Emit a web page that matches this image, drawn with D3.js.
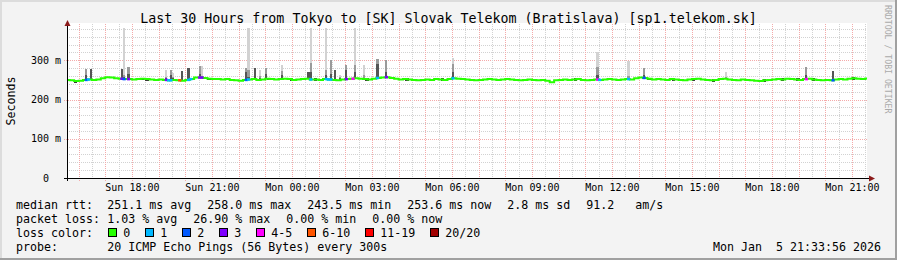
<!DOCTYPE html>
<html>
<head>
<meta charset="utf-8">
<script src="https://cdn.jsdelivr.net/npm/d3@7"></script>
<style>
  html, body { margin: 0; padding: 0; background: #f3f3f3; }
  svg text { font-family: "DejaVu Sans Mono", monospace; white-space: pre; }
</style>
</head>
<body>
<div id="chart"></div>
<script>

// --- DATA ---

const titleText = "Last 30 Hours from Tokyo to [SK] Slovak Telekom (Bratislava) [sp1.telekom.sk]";
const endStamp = "Mon Jan  5 21:33:56 2026";

// median rtt (ms), one value every 10 minutes starting Sun 15:30
const medianStart = "Sun 15:30";
const medianRtt = [
    250, 249, 247, 248, 250, 251, 250, 251,
    254, 257, 256, 254,
    253, 252, 252, 251, 252, 253, 252,
    251, 250, 251, 250, 249, 250,
    249, 248, 250, 252,
    256, 256, 255, 253, 252,
    252, 251, 252, 250, 249, 248, 250,
    251, 252, 250, 251, 253, 252, 251,
    252, 253, 252, 250, 251, 252, 253, 251,
    251, 250, 252, 251, 250, 249, 251,
    252, 253, 254, 253, 252, 251, 253, 255,
    256, 257, 255, 253, 251, 252,
    251, 250, 249, 250, 251, 250, 252, 251, 250,
    252, 254, 253, 252, 251, 250, 249, 250,
    251, 252, 251, 250, 251, 252, 251, 250,
    249, 250, 251, 250, 249, 250, 248, 244, 249,
    250, 251, 250, 251, 252, 250, 249, 250,
    251, 250, 251, 252, 251, 250, 251,
    252, 251, 254, 256, 255, 253, 251,
    252, 251, 250, 252, 251, 250, 249,
    251, 252, 253, 251, 250, 249, 250,
    252, 253, 251, 250, 249, 251, 250,
    249, 248, 247, 249, 250, 251, 252,
    251, 253, 252, 251, 250, 252, 253,
    251, 250, 249, 250, 249, 251, 252,
    251, 253, 254, 253, 252, 253.6
];

// samples with lost pings (count out of 20)
const lossTime = ["Sun 16:15", "Sun 16:20", "Sun 17:35", "Sun 17:40", "Sun 17:50", "Sun 19:15", "Sun 19:20",
    "Sun 19:25", "Sun 19:45", "Sun 20:05", "Sun 20:10", "Sun 20:30", "Sun 20:35", "Sun 22:15", "Sun 22:20",
    "Mon 00:40", "Mon 01:15", "Mon 01:20", "Mon 01:25", "Mon 02:00", "Mon 02:15", "Mon 03:10", "Mon 03:30",
    "Mon 06:00", "Mon 11:25", "Mon 11:30", "Mon 12:35", "Mon 13:10", "Mon 19:15", "Mon 20:15"];
const lossCount = [2, 1, 3, 2, 3, 3, 1,
    1, 7, 1, 1, 3, 3, 2, 1,
    1, 1, 1, 1, 3, 4, 1, 3,
    1, 4, 1, 1, 2, 4, 2];

// smoke: samples where the ping spread is wide (ms)
const smokeTime = ["Sun 16:15", "Sun 16:25", "Sun 17:35", "Sun 17:40", "Sun 17:50", "Sun 19:15", "Sun 19:25",
    "Sun 19:30", "Sun 19:50", "Sun 20:05", "Sun 20:30", "Sun 20:35", "Sun 22:15", "Sun 22:20", "Sun 22:35",
    "Sun 22:45", "Sun 23:00", "Sun 23:35", "Mon 00:35", "Mon 00:40", "Mon 01:15", "Mon 01:25", "Mon 01:35",
    "Mon 01:45", "Mon 02:00", "Mon 02:20", "Mon 02:40", "Mon 03:10", "Mon 03:30", "Mon 06:00", "Mon 11:25",
    "Mon 12:35", "Mon 13:10", "Mon 16:15", "Mon 19:15", "Mon 20:15"];
const smokeP75 = [262, 278, 278, 258, 265, 255, 262,
    255, 273, 280, 265, 256, 270, 258, 280,
    256, 265, 262, 270, 270, 262, 265, 275,
    255, 275, 270, 256, 290, 270, 270, 262,
    256, 262, 256, 262, 273];
const smokeP90 = [278, 278, 278, 262, 283, 258, 275,
    258, 273, 280, 285, 260, 280, 275, 280,
    260, 280, 272, 270, 293, 275, 301, 275,
    258, 288, 288, 262, 303, 301, 290, 283,
    260, 280, 258, 283, 273];
const smokeMax = [278, 278, 278, 382, 283, 275, 275,
    268, 273, 280, 285, 285, 280, 382, 280,
    275, 280, 288, 270, 382, 382, 301, 275,
    263, 288, 382, 288, 303, 301, 306, 321,
    298, 280, 270, 283, 273];

// samples where the smoke is tight but dark around the median
const tightSmokeTime = ["Sun 15:50", "Sun 18:20", "Sun 18:30", "Sun 20:50", "Sun 21:45", "Sun 23:05",
    "Sun 23:55", "Mon 00:50", "Mon 02:45", "Mon 04:15", "Mon 04:50", "Mon 05:35", "Mon 07:40", "Mon 09:20",
    "Mon 10:05", "Mon 10:35", "Mon 13:20", "Mon 14:15", "Mon 15:00", "Mon 15:45", "Mon 16:30", "Mon 17:40",
    "Mon 18:20", "Mon 18:55", "Mon 19:30", "Mon 21:00"];

const yTicks = [0, 100, 200, 300];
const yTickLabels = ["0  ", "100 m", "200 m", "300 m"];

const lossLabels = ["0", "1", "2", "3", "4-5", "6-10", "11-19", "20/20"];
const lossColors = ["#26ff00", "#00b8ff", "#0059ff", "#7e00ff", "#ff00ff", "#ff5500", "#ff0000", "#a10000"];

const legendRtt = ["median rtt:", "251.1 ms avg", "258.0 ms max", "243.5 ms min", "253.6 ms now", "2.8 ms sd", "91.2   am/s"];
const legendLoss = ["packet loss:", "1.03 % avg", "26.90 % max", "0.00 % min", "0.00 % now"];
const legendProbe = ["probe:", "20 ICMP Echo Pings (56 Bytes) every 300s"];


// --- HELPERS ---

const dayStart = {Sun: new Date(2026, 0, 4), Mon: new Date(2026, 0, 5)};
function at(s) {
    const [d, hm] = s.split(" ");
    const [h, m] = hm.split(":").map(Number);
    const t = new Date(dayStart[d]);
    t.setHours(h, m, 0, 0);
    return t;
}
const endTime = new Date(2026, 0, 5, 21, 33, 56);
const startTime = new Date(endTime.getTime() - 30 * 3600 * 1000);
const t0 = at(medianStart);
const STEP = 10 * 60 * 1000;
const SAMPLE = 5 * 60 * 1000;

function medianAt(t) {
    const i = Math.max(0, Math.min(medianRtt.length - 1, Math.floor((t - t0) / STEP)));
    return medianRtt[i];
}
function lossIndex(n) {
    if (n <= 3) return n;
    if (n <= 5) return 4;
    if (n <= 10) return 5;
    if (n <= 19) return 6;
    return 7;
}


// --- CHART ---

const W = 897, H = 260;
const plot = {left: 67, right: 867, top: 23, bottom: 178};
const CHAR = 7;

const svg = d3.select("#chart").append("svg")
    .attr("width", W)
    .attr("height", H);

// frame
svg.append("rect").attr("width", W).attr("height", H).attr("fill", "#f3f3f3");
svg.append("path").attr("d", `M0,0H${W}V2H2V${H}H0Z`).attr("fill", "#dcdcdc");
svg.append("path").attr("d", `M${W},${H}H0V${H - 2}H${W - 2}V0H${W}Z`).attr("fill", "#a0a0a0");

const x = d3.scaleTime().domain([startTime, endTime]).range([plot.left, plot.right]);
const y = d3.scaleLinear().domain([0, 395]).range([plot.bottom, plot.top]);

svg.append("rect")
    .attr("x", plot.left).attr("y", plot.top)
    .attr("width", plot.right - plot.left).attr("height", plot.bottom - plot.top)
    .attr("fill", "#ffffff");

const grid = svg.append("g").attr("shape-rendering", "crispEdges");

// horizontal grid
d3.range(20, 395, 20).forEach(v => {
    const major = v % 100 === 0;
    grid.append("line")
        .attr("x1", major ? plot.left - 3 : plot.left).attr("x2", plot.right)
        .attr("y1", Math.round(y(v)) + 0.5).attr("y2", Math.round(y(v)) + 0.5)
        .attr("stroke", major ? "#f4aaaa" : "#d2d2d2")
        .attr("stroke-dasharray", "1,1");
});

// vertical grid
d3.timeMinute.every(30).range(startTime, endTime).forEach(t => {
    const major = t.getMinutes() === 0;
    const xx = Math.round(x(t)) + 0.5;
    grid.append("line")
        .attr("x1", xx).attr("x2", xx)
        .attr("y1", plot.top + 1).attr("y2", major ? plot.bottom + 3 : plot.bottom)
        .attr("stroke", major ? "#f4aaaa" : "#d2d2d2")
        .attr("stroke-dasharray", "1,1");
});

// smoke
const smoke = svg.append("g").attr("shape-rendering", "crispEdges");
tightSmokeTime.forEach(s => {
    const t = at(s);
    const m = medianAt(t);
    smoke.append("rect")
        .attr("x", x(t)).attr("width", x(new Date(+t + 1.5 * SAMPLE)) - x(t))
        .attr("y", y(m + 3)).attr("height", y(m - 4) - y(m + 3))
        .attr("fill", "#3a3a3a");
});
smokeTime.forEach((s, i) => {
    const t = at(s);
    const m = medianAt(t);
    const x0 = x(t), w = x(new Date(+t + SAMPLE)) - x0;
    const bands = [
        [m, smokeMax[i], "#d2d2d2"],
        [m, smokeP90[i], "#9a9a9a"],
        [m, smokeP75[i], "#555555"]
    ];
    bands.forEach(([lo, hi, c]) => {
        if (hi <= lo) return;
        smoke.append("rect")
            .attr("x", x0).attr("width", w)
            .attr("y", y(hi)).attr("height", y(lo) - y(hi))
            .attr("fill", c);
    });
});

// median line
const medianLine = d3.line()
    .x(d => x(d[0]))
    .y(d => y(d[1]))
    .curve(d3.curveStepAfter);
const pts = medianRtt.map((v, i) => [new Date(+t0 + i * STEP), v]);
pts.push([endTime, medianRtt[medianRtt.length - 1]]);

svg.append("clipPath").attr("id", "clip")
    .append("rect")
    .attr("x", plot.left).attr("y", plot.top)
    .attr("width", plot.right - plot.left).attr("height", plot.bottom - plot.top);

svg.append("path")
    .attr("d", medianLine(pts))
    .attr("clip-path", "url(#clip)")
    .attr("fill", "none")
    .attr("stroke", lossColors[0])
    .attr("stroke-width", 2);

// loss coloured segments
lossTime.forEach((s, i) => {
    const t = at(s);
    const m = medianAt(t);
    svg.append("line")
        .attr("x1", x(t) - 0.5).attr("x2", x(new Date(+t + SAMPLE)) + 0.5)
        .attr("y1", y(m)).attr("y2", y(m))
        .attr("stroke", lossColors[lossIndex(lossCount[i])])
        .attr("stroke-width", 2.5);
});

// axes
const axes = svg.append("g").attr("shape-rendering", "crispEdges");
axes.append("line")
    .attr("x1", plot.left - 3).attr("x2", plot.right + 4)
    .attr("y1", plot.bottom + 0.5).attr("y2", plot.bottom + 0.5)
    .attr("stroke", "#000");
axes.append("line")
    .attr("x1", plot.left + 0.5).attr("x2", plot.left + 0.5)
    .attr("y1", plot.bottom + 3).attr("y2", plot.top - 1)
    .attr("stroke", "#000");
svg.append("path")
    .attr("d", `M${plot.right + 2},${plot.bottom - 2.5}L${plot.right + 8},${plot.bottom + 0.5}L${plot.right + 2},${plot.bottom + 3.5}Z`)
    .attr("fill", "#8b1a1a");
svg.append("path")
    .attr("d", `M${plot.left - 2.5},${plot.top + 3}L${plot.left + 0.5},${plot.top - 3}L${plot.left + 3.5},${plot.top + 3}Z`)
    .attr("fill", "#8b1a1a");

// x labels
const xAxisG = svg.append("g")
    .attr("transform", `translate(0,${plot.bottom})`)
    .call(d3.axisBottom(x)
        .ticks(d3.timeHour.every(3))
        .tickFormat(d3.timeFormat("%a %H:%M"))
        .tickSize(0)
        .tickPadding(6));
xAxisG.select(".domain").remove();
xAxisG.attr("font-family", "DejaVu Sans Mono").attr("font-size", 10);
xAxisG.selectAll("text").attr("fill", "#000");

// y labels
svg.append("g").selectAll("text")
    .data(yTicks)
    .join("text")
    .attr("x", plot.left - 6)
    .attr("y", d => y(d))
    .attr("dy", "0.35em")
    .attr("text-anchor", "end")
    .attr("font-size", 10)
    .attr("fill", "#000")
    .text((d, i) => yTickLabels[i]);

// title and axis title
svg.append("text")
    .attr("x", W / 2).attr("y", 23)
    .attr("text-anchor", "middle")
    .attr("font-size", 13.3)
    .attr("fill", "#000")
    .text(titleText);

svg.append("text")
    .attr("transform", "translate(14.5,101) rotate(-90)")
    .attr("text-anchor", "middle")
    .attr("font-size", 11.63)
    .attr("fill", "#000")
    .text("Seconds");

svg.append("text")
    .attr("transform", "translate(885,5) rotate(90)")
    .attr("font-size", 8.2)
    .attr("fill", "#aaaaaa")
    .text("RRDTOOL / TOBI OETIKER");

// legend
const legend = svg.append("g").attr("font-size", 11.63).attr("fill", "#000");
function legendRow(parts, yy) {
    let xx = 107.3;
    legend.append("text").attr("x", 16).attr("y", yy).text(parts[0]);
    parts.slice(1).forEach(p => {
        legend.append("text").attr("x", xx).attr("y", yy).text(p);
        xx += p.length * CHAR + 16;
    });
}
legendRow(legendRtt, 208.5);
legendRow(legendLoss, 222.5);

legend.append("text").attr("x", 16).attr("y", 236.5).text("loss color:");
let bx = 108.3;
lossLabels.forEach((lbl, i) => {
    legend.append("rect")
        .attr("x", bx + 0.5).attr("y", 228.5)
        .attr("width", 8).attr("height", 8)
        .attr("fill", lossColors[i])
        .attr("stroke", "#000")
        .attr("shape-rendering", "crispEdges");
    legend.append("text").attr("x", bx + 15).attr("y", 236.5).text(lbl);
    bx += 15 + lbl.length * CHAR + 15;
});

legendRow(legendProbe, 250.5);
legend.append("text")
    .attr("x", 881).attr("y", 250.5)
    .attr("text-anchor", "end")
    .text(endStamp);

</script>
</body>
</html>
